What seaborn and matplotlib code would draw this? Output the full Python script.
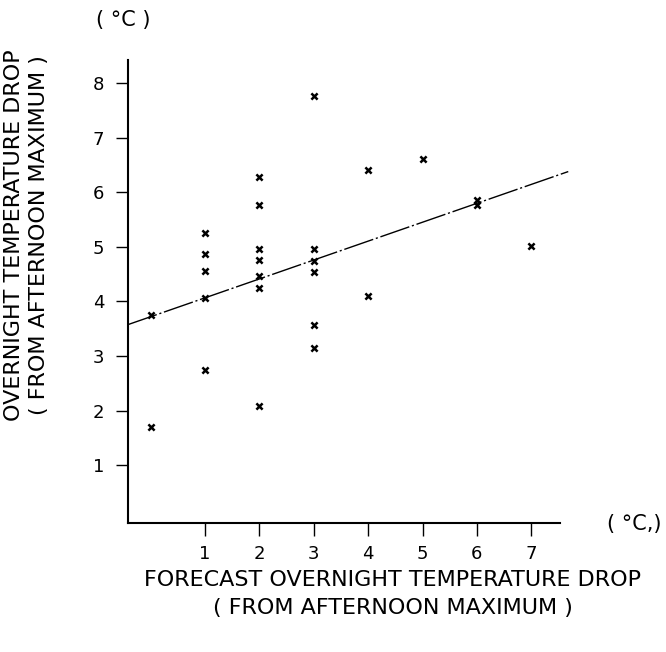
import matplotlib
matplotlib.use("Agg")
import matplotlib.pyplot as plt
import seaborn as sns
import pandas as pd
import numpy as np

# Data
forecast = [0, 0,
            1, 1, 1, 1, 1,
            2, 2, 2, 2, 2, 2, 2,
            3, 3, 3, 3, 3, 3,
            4, 4,
            5,
            6, 6,
            7]
observed = [3.75, 1.70,
            5.26, 4.86, 4.56, 4.07, 2.75,
            6.27, 5.76, 4.96, 4.75, 4.46, 4.24, 2.08,
            7.76, 4.96, 4.74, 4.53, 3.57, 3.15,
            6.40, 4.10,
            6.61,
            5.86, 5.77,
            5.01]
fit_intercept = 3.72
fit_slope = 0.346
x_ticks = [1, 2, 3, 4, 5, 6, 7]
y_ticks = [1, 2, 3, 4, 5, 6, 7, 8]

df = pd.DataFrame({"forecast": forecast, "observed": observed})

sns.set_style("ticks")
plt.rcParams["font.family"] = ["DejaVu Sans"]
plt.rcParams["text.color"] = "black"
plt.rcParams["xtick.color"] = "black"
plt.rcParams["ytick.color"] = "black"
plt.rcParams["axes.labelcolor"] = "black"

fig = plt.figure(figsize=(6.66, 6.52), dpi=100)
ax = fig.add_axes([0.192, 0.198, 0.649, 0.710])

sns.scatterplot(data=df, x="forecast", y="observed", marker="x", color="black",
                s=20, linewidth=1.8, ax=ax, zorder=3)

xl = np.array([-0.42, 7.68])
sns.lineplot(x=xl, y=fit_intercept + fit_slope * xl, color="black", linewidth=1.0,
             ax=ax, dashes=False)
ax.lines[-1].set_dashes([22, 2, 1.5, 2])
ax.lines[-1].set_clip_on(False)

ax.set_xlim(-0.42, 7.53)
ax.set_ylim(-0.055, 8.42)
ax.set_xticks(x_ticks)
ax.set_yticks(y_ticks)
ax.set_xticklabels([str(t) for t in x_ticks], fontsize=13)
ax.set_yticklabels([str(t) for t in y_ticks], fontsize=13)
ax.tick_params(axis="both", length=9, width=1.0, color="black")
ax.tick_params(axis="x", pad=7)
ax.tick_params(axis="y", pad=8)
for s in ["top", "right"]:
    ax.spines[s].set_visible(False)
for s in ["left", "bottom"]:
    ax.spines[s].set_linewidth(1.5)
    ax.spines[s].set_color("black")
ax.set_xlabel("")
ax.set_ylabel("")

fs = 16
fig.text(0.185, 0.970, "( °C )", fontsize=15, ha="center", va="center")
fig.text(0.953, 0.196, "( °C,)", fontsize=15, ha="center", va="center")

fig.text(0.590, 0.110, "FORECAST OVERNIGHT TEMPERATURE DROP", fontsize=fs,
         ha="center", va="center")
fig.text(0.590, 0.068, "( FROM AFTERNOON MAXIMUM )", fontsize=fs,
         ha="center", va="center")
fig.text(0.021, 0.640, "OVERNIGHT TEMPERATURE DROP", fontsize=fs,
         ha="center", va="center", rotation=90)
fig.text(0.059, 0.640, "( FROM AFTERNOON MAXIMUM )", fontsize=fs,
         ha="center", va="center", rotation=90)

fig.savefig("out.png", dpi=100, facecolor="white")
